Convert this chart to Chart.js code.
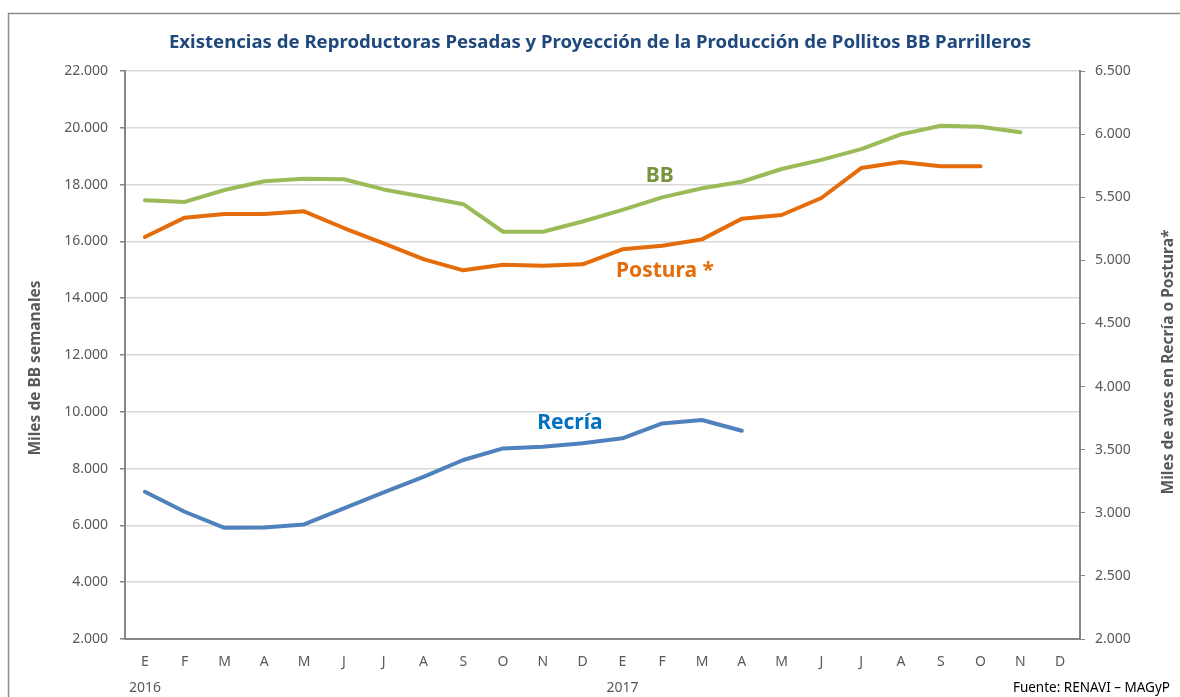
<!DOCTYPE html>
<html>
<head>
<meta charset="utf-8">
<script src="https://cdn.jsdelivr.net/npm/chart.js@4.4.1/dist/chart.umd.min.js"></script>
<style>
    html, body { margin: 0; padding: 0; background: #fff; }
    #wrap { width: 1180px; height: 697px; position: relative; }
</style>
</head>
<body>
<div id="wrap"><canvas id="chart" width="1180" height="697"></canvas></div>
<script>
// Meses (E = enero ... D = diciembre), 2016 y 2017
const months = ['E','F','M','A','M','J','J','A','S','O','N','D','E','F','M','A','M','J','J','A','S','O','N','D'];
const years = ['2016','','','','','','','','','','','','2017','','','','','','','','','','',''];

// Miles de BB semanales (eje izquierdo)
const bbValues = [17450, 17390, 17810, 18120, 18210, 18190, 17830, 17570, 17310, 16340, 16340, 16700,
                  17110, 17550, 17870, 18100, 18550, 18870, 19250, 19770, 20070, 20040, 19840, null];
// Miles de aves en postura (eje derecho)
const posturaValues = [5185, 5338, 5367, 5367, 5388, 5256, 5135, 5010, 4921, 4965, 4957, 4968,
                       5087, 5116, 5166, 5330, 5359, 5494, 5731, 5779, 5745, 5745, null, null];
// Miles de aves en recría (eje derecho)
const recriaValues = [3166, 3008, 2881, 2884, 2908, 3035, 3162, 3285, 3418, 3510, 3523, 3550,
                      3590, 3708, 3735, 3650, null, null, null, null, null, null, null, null];

const leftTicks = { min: 2000, max: 22000, step: 2000 };
const rightTicks = { min: 2000, max: 6500, step: 500 };

const fmt = (v) => String(v).replace(/\B(?=(\d{3})+(?!\d))/g, '.');

const GREY = '#595959';
const FONT = "'Noto Sans', 'Open Sans', sans-serif";

// Textos sobre el gráfico: título, nombres de series, ejes y fuente
const overlay = {
    id: 'overlay',
    beforeDraw: (chart) => {
        const c = chart.ctx;
        c.save();
        c.strokeStyle = '#8c8c8c';
        c.lineWidth = 1.5;
        c.beginPath();
        c.moveTo(8.5, 697);
        c.lineTo(8.5, 13.5);
        c.lineTo(1180, 13.5);
        c.stroke();
        c.restore();
    },
    afterDatasetsDraw: (chart, args, opts) => {
        const c = chart.ctx;
        const area = chart.chartArea;
        c.save();
        // Título
        c.fillStyle = '#1F497D';
        c.font = 'bold 18.6px ' + FONT;
        c.textAlign = 'center';
        c.textBaseline = 'middle';
        c.fillText(opts.title, 600, 43);

        // Nombres de series
        opts.seriesLabels.forEach((s) => {
            const x = chart.scales.x.getPixelForValue(s.index);
            const y = chart.scales[s.axis].getPixelForValue(s.value);
            c.fillStyle = s.color;
            c.font = 'bold 21px ' + FONT;
            c.fillText(s.text, x, y);
        });

        // Títulos de ejes
        c.fillStyle = GREY;
        c.font = 'bold 15.5px ' + FONT;
        c.translate(36, 368);
        c.rotate(-Math.PI / 2);
        c.fillText(opts.leftTitle, 0, 0);
        c.setTransform(1, 0, 0, 1, 0, 0);
        c.translate(1169, 362);
        c.rotate(-Math.PI / 2);
        c.fillText(opts.rightTitle, 0, 0);
        c.setTransform(1, 0, 0, 1, 0, 0);

        // Fuente
        c.fillStyle = '#000';
        c.font = '13.5px ' + FONT;
        c.textAlign = 'right';
        c.fillText(opts.source, 1170, 688);
        c.restore();
    }
};

const ctx = document.getElementById('chart');
const config = {
    type: 'line',
    data: {
        labels: months.map((m, i) => years[i] ? [m, years[i]] : m),
        datasets: [
            {
                label: 'BB',
                data: bbValues,
                yAxisID: 'y',
                borderColor: '#9BBB59',
                backgroundColor: '#9BBB59'
            },
            {
                label: 'Postura *',
                data: posturaValues,
                yAxisID: 'y1',
                borderColor: '#E46C0A',
                backgroundColor: '#E46C0A'
            },
            {
                label: 'Recría',
                data: recriaValues,
                yAxisID: 'y1',
                borderColor: '#4F81BD',
                backgroundColor: '#4F81BD'
            }
        ]
    },
    options: {
        responsive: false,
        animation: false,
        layout: {
            padding: { top: 71, left: 0, right: 0, bottom: 0 }
        },
        elements: {
            line: { borderWidth: 4, tension: 0, borderCapStyle: 'round', borderJoinStyle: 'round' },
            point: { radius: 0, hoverRadius: 0 }
        },
        scales: {
            x: {
                type: 'category',
                offset: true,
                afterFit: (scale) => { scale.height = 58; },
                grid: { drawOnChartArea: false, drawTicks: false, offset: true },
                border: { display: true, color: '#868686', width: 2 },
                ticks: {
                    color: GREY,
                    padding: 10,
                    maxRotation: 0,
                    autoSkip: false,
                    font: { family: FONT, size: 14, lineHeight: 1.85 }
                }
            },
            y: {
                position: 'left',
                min: leftTicks.min,
                max: leftTicks.max,
                afterFit: (scale) => { scale.width = 125; },
                grid: { color: '#D9D9D9', lineWidth: 1.5, tickLength: 5, tickColor: '#868686' },
                border: { display: true, color: '#868686', width: 2 },
                ticks: {
                    stepSize: leftTicks.step,
                    color: GREY,
                    padding: 12,
                    font: { family: FONT, size: 14 },
                    callback: (v) => fmt(v)
                }
            },
            y1: {
                position: 'right',
                min: rightTicks.min,
                max: rightTicks.max,
                afterFit: (scale) => { scale.width = 100; },
                grid: { drawOnChartArea: false, tickLength: 5, tickColor: '#868686' },
                border: { display: true, color: '#868686', width: 2 },
                ticks: {
                    stepSize: rightTicks.step,
                    color: GREY,
                    padding: 10,
                    font: { family: FONT, size: 14 },
                    callback: (v) => fmt(v)
                }
            }
        },
        plugins: {
            legend: { display: false },
            tooltip: { enabled: false },
            overlay: {
                title: 'Existencias de Reproductoras Pesadas y Proyección de la Producción de Pollitos BB Parrilleros',
                leftTitle: 'Miles de BB semanales',
                rightTitle: 'Miles de aves en Recría o Postura*',
                source: 'Fuente: RENAVI – MAGyP',
                seriesLabels: [
                    { text: 'BB', index: 12.94, value: 18300, axis: 'y', color: '#77933C' },
                    { text: 'Postura *', index: 13.07, value: 4915, axis: 'y1', color: '#E46C0A' },
                    { text: 'Recría', index: 10.68, value: 3711, axis: 'y1', color: '#0070C0' }
                ]
            }
        }
    },
    plugins: [overlay]
};

new Chart(ctx, config);
</script>
</body>
</html>
